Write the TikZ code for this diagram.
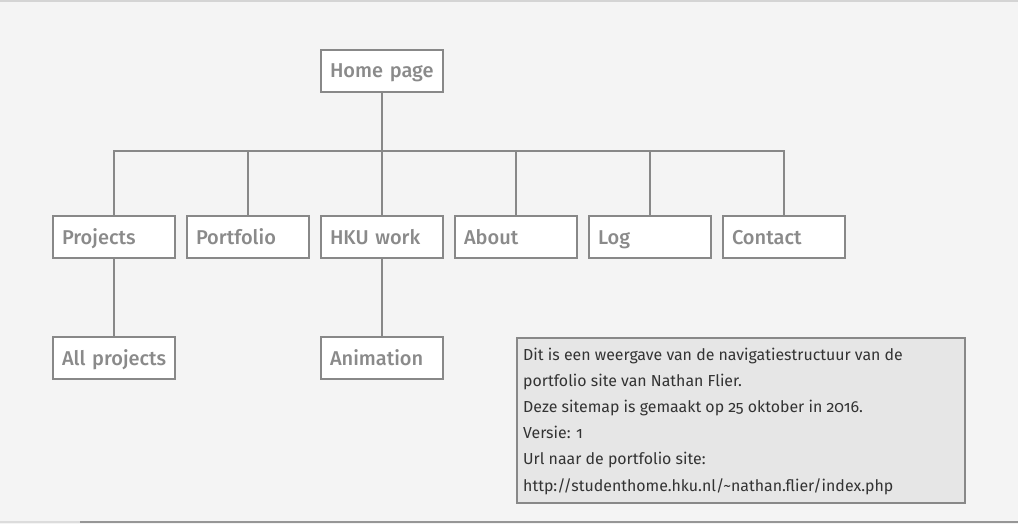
\documentclass[tikz,border=0pt]{standalone}
\usepackage{fontspec}
\setmainfont{Fira Sans}[Numbers=OldStyle]
\newfontfamily\labelfont{Fira Sans Medium}
\definecolor{bggray}{HTML}{F4F4F4}
\definecolor{linegray}{HTML}{888888}
\definecolor{labelgray}{HTML}{8A8A8A}
\definecolor{notefill}{HTML}{E6E6E6}
\definecolor{notetext}{HTML}{333333}
\begin{document}
\begin{tikzpicture}[x=1pt,y=-1pt,
  page/.style={draw=linegray, line width=2pt, fill=white,
    minimum width=122pt, minimum height=42pt, text width=104pt,
    inner xsep=8pt, inner ysep=0pt, align=left, text=labelgray,
    text height=14pt, text depth=0pt,
    font=\labelfont\fontsize{20}{22}\selectfont},
  link/.style={draw=linegray, line width=2pt}]
% canvas
\fill[bggray] (0,0) rectangle (1018,524);
\useasboundingbox (0,0) rectangle (1018,524);
\draw[color={rgb,255:red,212;green,212;blue,212}, line width=2pt] (0,1) -- (1018,1);
\draw[color={rgb,255:red,220;green,220;blue,220}, line width=2pt] (0,522) -- (80,522);
\draw[color={rgb,255:red,150;green,150;blue,150}, line width=2pt] (80,522) -- (1018,522);

% pages
\node[page] (home) at (382,71) {Home page};
\node[page] (projects)  at (114,237) {Projects};
\node[page] (portfolio) at (248,237) {Portfolio};
\node[page] (hku)       at (382,237) {HKU work};
\node[page] (about)     at (516,237) {About};
\node[page] (log)       at (650,237) {Log};
\node[page] (contact)   at (784,237) {Contact};
\node[page] (allproj)   at (114,358) {All~projects};
\node[page] (anim)      at (382,358) {Animation};

% tree connectors
\coordinate (bus) at (382,151);
\draw[link] (home.south) -- (bus);
\foreach \c in {projects,portfolio,hku,about,log,contact}
  \draw[link] (bus) -| (\c.north);
\draw[link] (projects.south) -- (allproj.north);
\draw[link] (hku.south) -- (anim.north);

% note box
\node[draw=linegray, line width=2pt, fill=notefill, minimum width=448pt,
  minimum height=165pt, anchor=north west, inner sep=0pt] (note) at (516,337) {};
\node[anchor=north west, inner sep=0pt, align=left, text=notetext,
  font=\fontsize{15.9}{26.2}\selectfont] (notetxt) at (523,347.5)
  {Dit is een weergave van de navigatiestructuur van de\\
   portfolio site van Nathan Flier.\\
   Deze sitemap is gemaakt op 25 oktober in 2016.\\
   Versie: 1\\
   Url naar de portfolio site:\\
   http://studenthome.hku.nl/\textasciitilde nathan.flier/index.php};
\end{tikzpicture}
\end{document}
